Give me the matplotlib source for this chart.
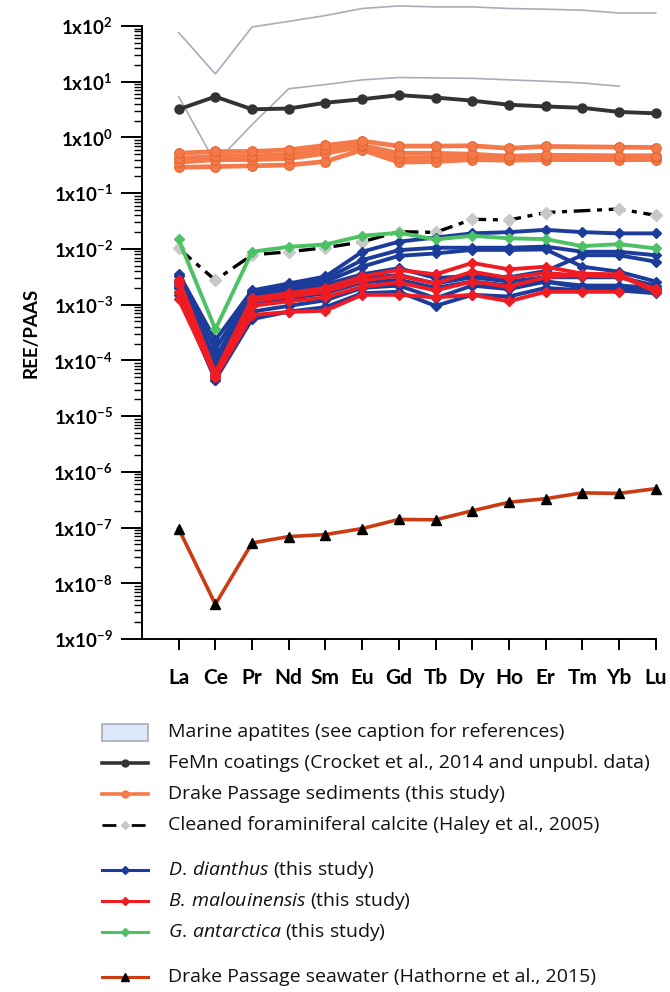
import numpy as np
import matplotlib
matplotlib.use('Agg')
import matplotlib.pyplot as plt
from matplotlib.lines import Line2D
from matplotlib.patches import Rectangle
from matplotlib.ticker import FixedLocator, LogLocator, FuncFormatter, NullFormatter

plt.rcParams['font.family'] = ['Lato', 'DejaVu Sans']
plt.rcParams['mathtext.fontset'] = 'custom'
plt.rcParams['mathtext.rm'] = 'Open Sans'
plt.rcParams['mathtext.bf'] = 'Lato:bold'
plt.rcParams['mathtext.it'] = 'Open Sans:italic'

# REE elements (Pm left out)
elements = ['La', 'Ce', 'Pr', 'Nd', 'Sm', 'Eu', 'Gd', 'Tb', 'Dy', 'Ho', 'Er', 'Tm', 'Yb', 'Lu']
nan = np.nan

# marine apatites (range lines)
apatite_hi = [76, 13.8, 96, 121, 154, 206, 229, 220, 220, 206, 200, 192, 171, 171]
apatite_lo = [5.4, 0.35, 1.7, 7.5, 8.9, 10.8, 11.9, 11.7, 11.5, 10.8, 10.2, 9.5, 8.3, nan]

# FeMn coatings
femn = [3.2, 5.4, 3.2, 3.3, 4.2, 4.85, 5.75, 5.2, 4.57, 3.86, 3.6, 3.4, 2.87, 2.71]

# Drake Passage sediments
sed1 = [0.52, 0.56, 0.56, 0.60, 0.72, 0.86, 0.70, 0.70, 0.71, 0.64, 0.69, nan, 0.67, 0.66]
sed2 = [0.42, 0.46, 0.46, 0.50, 0.62, 0.72, 0.52, 0.52, 0.50, 0.46, 0.48, nan, 0.47, 0.47]
sed3 = [0.36, 0.40, 0.40, 0.42, 0.52, 0.69, 0.42, 0.44, 0.44, 0.42, 0.44, nan, 0.44, 0.44]
sed4 = [0.29, 0.30, 0.31, 0.32, 0.37, 0.60, 0.36, 0.37, 0.40, 0.39, 0.40, nan, 0.40, 0.40]

# cleaned foraminiferal calcite
foram = [0.0102, 0.00275, 0.0078, 0.0089, 0.0105, 0.0134, 0.0204, 0.0198, 0.034, 0.033, 0.045, nan, 0.052, 0.040]

# D. dianthus
dd1 = [3.6e-3, 2.3e-4, 1.8e-3, 2.4e-3, 3.2e-3, 8.9e-3, 1.35e-2, 1.6e-2, 1.9e-2, 2.0e-2, 2.2e-2, 2.0e-2, 1.9e-2, 1.9e-2]
dd2 = [3.2e-3, 1.6e-4, 1.7e-3, 2.2e-3, 2.9e-3, 6.3e-3, 9.5e-3, 1.05e-2, 1.05e-2, 1.05e-2, 1.1e-2, 8.9e-3, 8.9e-3, 7.7e-3]
dd3 = [2.8e-3, 1.1e-4, 1.6e-3, 2.0e-3, 2.6e-3, 4.8e-3, 7.5e-3, 8.3e-3, 9.6e-3, 9.6e-3, 9.8e-3, 4.8e-3, 3.9e-3, 2.6e-3]
dd4 = [2.5e-3, 8e-5, 1.5e-3, 1.8e-3, 2.3e-3, 3.5e-3, 4.5e-3, 3.0e-3, 3.3e-3, 3.1e-3, 4.0e-3, 7.7e-3, 7.7e-3, 5.9e-3]
dd5 = [2.2e-3, 6e-5, 1.3e-3, 1.6e-3, 2.0e-3, 3.0e-3, 3.4e-3, 2.4e-3, 3.1e-3, 2.6e-3, 3.1e-3, 3.1e-3, 3.1e-3, 2.2e-3]
dd6 = [2.0e-3, 5e-5, 1.1e-3, 1.3e-3, 1.6e-3, 2.5e-3, 2.8e-3, 2.0e-3, 2.6e-3, 2.2e-3, 2.6e-3, 2.2e-3, 2.2e-3, 2.0e-3]
dd7 = [1.7e-3, 4.5e-5, 7.5e-4, 9.5e-4, 1.2e-3, 2.0e-3, 2.2e-3, 1.3e-3, 2.2e-3, 1.9e-3, 2.6e-3, 2.0e-3, 2.0e-3, 1.8e-3]
dd8 = [1.5e-3, 4.5e-5, 5.5e-4, 7.5e-4, 9.0e-4, 1.6e-3, 1.7e-3, 9.5e-4, 1.5e-3, 1.4e-3, 2.0e-3, 1.8e-3, 1.8e-3, 1.6e-3]

# B. malouinensis
bm1 = [2.8e-3, 6e-5, 1.3e-3, 1.6e-3, 2.0e-3, 3.2e-3, 4.2e-3, 3.5e-3, 5.6e-3, 4.3e-3, 4.8e-3, 3.6e-3, 3.5e-3, 1.8e-3]
bm2 = [2.3e-3, 5.5e-5, 1.15e-3, 1.4e-3, 1.7e-3, 2.7e-3, 3.3e-3, 2.4e-3, 3.9e-3, 3.0e-3, 3.7e-3, 3.3e-3, 3.2e-3, 1.9e-3]
bm3 = [1.7e-3, 5e-5, 9.5e-4, 1.15e-3, 1.35e-3, 2.1e-3, 2.5e-3, 1.8e-3, 2.6e-3, 2.1e-3, 3.1e-3, 3.4e-3, 3.4e-3, 1.7e-3]
bm4 = [1.25e-3, 5e-5, 6.5e-4, 7.4e-4, 7.8e-4, 1.5e-3, 1.5e-3, 1.35e-3, 1.5e-3, 1.15e-3, 1.7e-3, 1.7e-3, 1.7e-3, nan]

# G. antarctica
ga = [0.0148, 0.00036, 0.0089, 0.0109, 0.012, 0.0172, 0.0195, 0.0148, 0.0172, 0.0155, 0.0150, 0.0112, 0.0122, 0.0102]

# Drake Passage seawater
seawater = [9.5e-8, 4.2e-9, 5.3e-8, 6.9e-8, 7.5e-8, 9.6e-8, 1.4e-7, 1.38e-7, 2.0e-7, 2.85e-7, 3.3e-7, 4.2e-7, 4.1e-7, 5.0e-7]

c_apat = '#a9acb8'
c_femn = '#333333'
c_sed = '#f47a4b'
c_dd = '#1b3c9b'
c_bm = '#f01c24'
c_ga = '#4cc265'
c_sw = '#cc3c12'

x = np.arange(1, len(elements) + 1)

fig = plt.figure(figsize=(6.7, 9.92), dpi=100)
ax = fig.add_axes([0.2119, 0.3558, 0.7668, 0.618])


def draw(vals, **kw):
    v = np.array(vals, dtype=float)
    ok = np.isfinite(v)
    ax.plot(x[ok], v[ok], clip_on=False, **kw)


draw(apatite_hi, color=c_apat, lw=1.2, zorder=1)
draw(apatite_lo, color=c_apat, lw=1.2, zorder=1)

draw(femn, color=c_femn, lw=2.8, marker='o', ms=6.5, zorder=3)

sed_style = dict(color=c_sed, lw=3.4, marker='o', ms=7, mfc=c_sed, mec='#e8652f', mew=0.8, zorder=3)
for s in [sed4, sed3, sed2, sed1]:
    draw(s, **sed_style)

draw(foram, color='black', lw=2.4, dashes=[5, 2, 1.5, 2], marker='D', ms=6,
     mfc='#c8c8c8', mec='#c8c8c8', zorder=4)

dd_style = dict(color=c_dd, lw=2.8, marker='D', ms=5, zorder=5)
for d in [dd1, dd2, dd3, dd4, dd5, dd6, dd7, dd8]:
    draw(d, **dd_style)

bm_style = dict(color=c_bm, lw=2.8, marker='D', ms=5, zorder=6)
for b in [bm1, bm2, bm3, bm4]:
    draw(b, **bm_style)

draw(ga, color=c_ga, lw=2.8, marker='D', ms=5.5, zorder=7)

draw(seawater, color=c_sw, lw=2.6, marker='^', ms=7.5, mfc='black', mec='black', zorder=5)

# axes styling
ax.set_yscale('log')
ax.set_ylim(1e-9, 1e2)
ax.set_xlim(0, 14)
for side in ['top', 'right']:
    ax.spines[side].set_visible(False)
for side in ['left', 'bottom']:
    ax.spines[side].set_linewidth(1.4)

ax.xaxis.set_major_locator(FixedLocator(x))
ax.set_xticklabels(elements, fontsize=15, fontweight='bold')
ax.tick_params(axis='x', direction='out', length=8, width=1.4, pad=13)

ax.yaxis.set_major_locator(LogLocator(base=10, numticks=20))
ax.yaxis.set_minor_locator(LogLocator(base=10, subs=np.arange(2, 10), numticks=20))
ax.yaxis.set_minor_formatter(NullFormatter())
ax.yaxis.set_major_formatter(FuncFormatter(lambda v, p: r'$\mathbf{1x10^{%d}}$' % round(np.log10(v))))
ax.tick_params(axis='y', which='major', direction='out', length=15, width=1.4, pad=6, labelsize=13.5)
ax.tick_params(axis='y', which='minor', direction='out', length=6, width=1.0)
ax.set_ylabel('REE/PAAS', fontsize=13.5, fontweight='bold', labelpad=10)

# legend drawn by hand to keep the grouped spacing
H = 992.0
W = 670.0
rows = [
    (732, 'patch', 'Marine apatites (see caption for references)'),
    (763, dict(color=c_femn, lw=2.6, marker='o', ms=5), 'FeMn coatings (Crocket et al., 2014 and unpubl. data)'),
    (794, dict(color=c_sed, lw=2.6, marker='o', ms=5), 'Drake Passage sediments (this study)'),
    (825, dict(color='black', lw=2.0, dashes=[5, 2, 1.5, 2], marker='D', ms=4.5, mfc='#c8c8c8', mec='#c8c8c8'),
     'Cleaned foraminiferal calcite (Haley et al., 2005)'),
    (870, dict(color=c_dd, lw=2.2, marker='D', ms=4), r'$\mathit{D.\,dianthus}$ (this study)'),
    (901, dict(color=c_bm, lw=2.2, marker='D', ms=4), r'$\mathit{B.\,malouinensis}$ (this study)'),
    (932, dict(color=c_ga, lw=2.2, marker='D', ms=4), r'$\mathit{G.\,antarctica}$ (this study)'),
    (977, dict(color=c_sw, lw=2.2, marker='^', ms=5.5, mfc='black', mec='black'),
     'Drake Passage seawater (Hathorne et al., 2015)'),
]
x0, x1, xt = 102 / W, 148 / W, 168 / W
for ypx, style, label in rows:
    yf = 1 - ypx / H
    if style == 'patch':
        fig.patches.append(Rectangle((x0, yf - 8.5 / H), x1 - x0, 17 / H, transform=fig.transFigure,
                                     facecolor='#dde7fa', edgecolor='#a9acb8', lw=1.2))
    else:
        fig.add_artist(Line2D([x0, (x0 + x1) / 2, x1], [yf, yf, yf], markevery=[1],
                              transform=fig.transFigure, **style))
    fig.text(xt, yf, label, fontsize=14, va='center', ha='left', color='#111111',
             family=['Open Sans', 'DejaVu Sans'])

fig.savefig('out.png', dpi=100)
